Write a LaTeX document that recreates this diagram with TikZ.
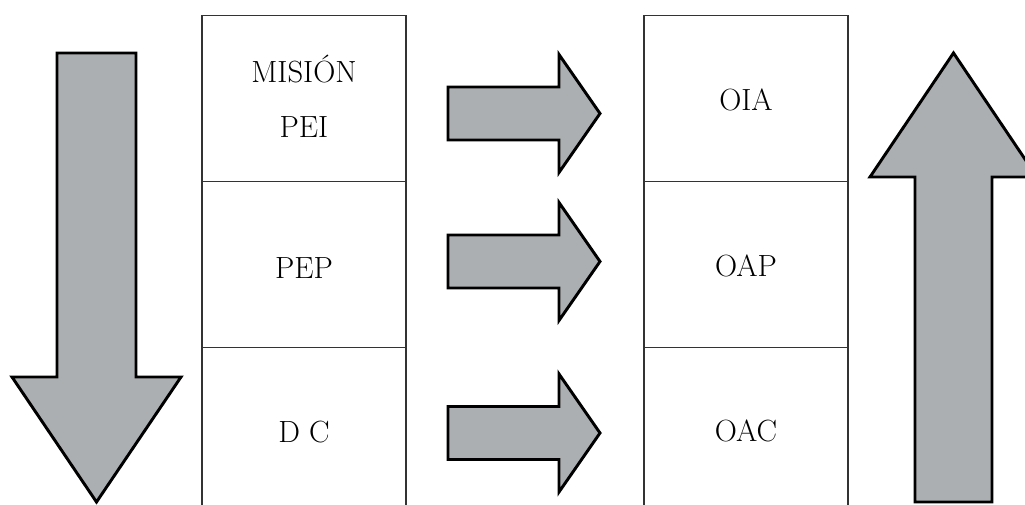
\documentclass[tikz,border=0pt]{standalone}
\usepackage{fontspec}
\usepackage{tikz}
\definecolor{arrowgray}{HTML}{ACAFB1}
\definecolor{linegray}{HTML}{333333}

\begin{document}
\begin{tikzpicture}[x=0.75pt, y=-0.75pt,
                    bigarrow/.style={draw=black, line width=2.2pt, fill=arrowgray, miter limit=10},
                    cellline/.style={draw=linegray, line width=1.1pt},
                    every node/.style={font=\fontsize{23}{28}\selectfont, inner sep=0pt, anchor=base}]
    \useasboundingbox (0,0) rectangle (1025,505);
    \clip (0,0) rectangle (1025,505);

    % left column of cells
    \draw[cellline] (202,520) -- (202,15.5) -- (406,15.5) -- (406,520);
    \draw[cellline] (202,181.5) -- (406,181.5);
    \draw[cellline] (202,347.5) -- (406,347.5);

    % right column of cells
    \draw[cellline] (644,520) -- (644,15.5) -- (848,15.5) -- (848,520);
    \draw[cellline] (644,181.5) -- (848,181.5);
    \draw[cellline] (644,347.5) -- (848,347.5);

    % cell texts
    \node (mision) at (304,83)  {MISIÓN};
    \node (pei)    at (304,138) {PEI};
    \node (pep)    at (304,279) {PEP};
    \node (dc)     at (304,443) {D C};
    \node (oia)    at (746,111) {OIA};
    \node (oap)    at (746,277) {OAP};
    \node (oac)    at (746,442) {OAC};

    % big down arrow
    \draw[bigarrow] (57,53) -- (136,53) -- (136,377) -- (181,377) -- (96.5,502)
                    -- (12,377) -- (57,377) -- cycle;

    % arrows between the columns
    \foreach \ty in {113.5,261.5,433}
        \draw[bigarrow] (448,\ty-26.5) -- (559,\ty-26.5) -- (559,\ty-59) -- (600,\ty)
                        -- (559,\ty+59) -- (559,\ty+26.5) -- (448,\ty+26.5) -- cycle;

    % big up arrow
    \draw[bigarrow] (915,502) -- (992,502) -- (992,177) -- (1037,177) -- (953.5,53)
                    -- (870,177) -- (915,177) -- cycle;

\end{tikzpicture}
\end{document}
